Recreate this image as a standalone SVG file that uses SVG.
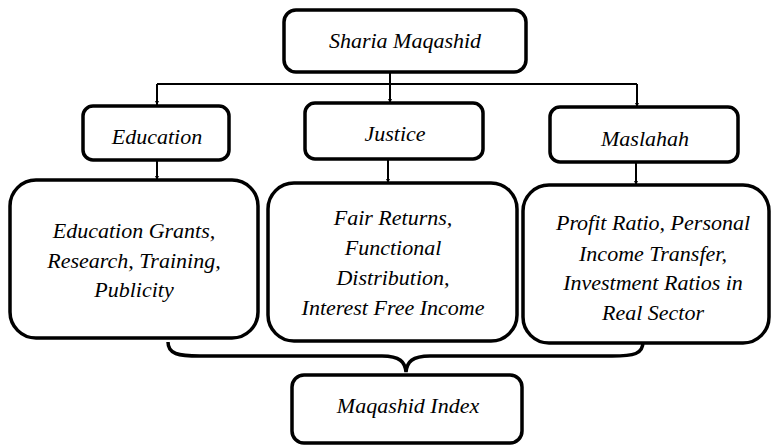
<svg xmlns="http://www.w3.org/2000/svg" width="772" height="445" viewBox="0 0 772 445">
<defs>
<style>
.box{fill:#fff;stroke:#000;stroke-width:3.5}
.t{font-family:'Liberation Serif','DejaVu Serif','Noto Serif','Times New Roman',Times,serif;font-style:italic;font-size:22px;fill:#000;text-anchor:middle}
.c{fill:none;stroke:#000;stroke-width:2}
.br{fill:none;stroke:#000;stroke-width:3.5}
</style>
<marker id="ah" viewBox="0 0 8 8" refX="8" refY="4" markerWidth="4" markerHeight="4" orient="auto" markerUnits="userSpaceOnUse">
<path d="M0,0 L8,4 L0,8 z" fill="#000"/>
</marker>
</defs>
<rect width="772" height="445" fill="#fff"/>
<g id="connectors">
<path class="c" d="M390,72 V103" marker-end="url(#ah)"/>
<path class="c" d="M157,84 H637"/>
<path class="c" d="M157,84 V105" marker-end="url(#ah)"/>
<path class="c" d="M637,84 V107" marker-end="url(#ah)"/>
<path class="c" d="M157,160 V180" marker-end="url(#ah)"/>
<path class="c" d="M388,155 V183" marker-end="url(#ah)"/>
<path class="c" d="M636,162 V185" marker-end="url(#ah)"/>
<path class="br" d="M168,342 C168,354 178,356 200,356 L382,356 C400,356 405,362 406,372 C407,362 412,356 430,356 L612,356 C634,356 643,354 643,342"/>
</g>
<g id="sharia">
<rect class="box" x="284" y="10" width="242" height="62" rx="12"/>
<text class="t" x="405" y="48">Sharia Maqashid</text>
</g>
<g id="education">
<rect class="box" x="83" y="106" width="146" height="54" rx="10"/>
<text class="t" x="157" y="144">Education</text>
</g>
<g id="justice">
<rect class="box" x="305" y="103" width="178" height="56" rx="10"/>
<text class="t" x="395" y="141">Justice</text>
</g>
<g id="maslahah">
<rect class="box" x="550" y="107" width="188" height="55" rx="10"/>
<text class="t" x="645" y="146">Maslahah</text>
</g>
<g id="edu-indicators">
<rect class="box" x="10" y="180" width="248" height="158" rx="26"/>
<text class="t" x="134" y="238">Education Grants,</text>
<text class="t" x="134" y="268">Research, Training,</text>
<text class="t" x="134" y="297">Publicity</text>
</g>
<g id="justice-indicators">
<rect class="box" x="268" y="183" width="249" height="158" rx="26"/>
<text class="t" x="393" y="225">Fair Returns,</text>
<text class="t" x="393" y="255">Functional</text>
<text class="t" x="393" y="285">Distribution,</text>
<text class="t" x="393" y="315">Interest Free Income</text>
</g>
<g id="maslahah-indicators">
<rect class="box" x="523" y="185" width="246" height="158" rx="26"/>
<text class="t" x="653" y="230">Profit Ratio, Personal</text>
<text class="t" x="653" y="261">Income Transfer,</text>
<text class="t" x="653" y="290">Investment Ratios in</text>
<text class="t" x="653" y="320">Real Sector</text>
</g>
<g id="index">
<rect class="box" x="292" y="375" width="230" height="68" rx="12"/>
<text class="t" x="408" y="413">Maqashid Index</text>
</g>
</svg>
